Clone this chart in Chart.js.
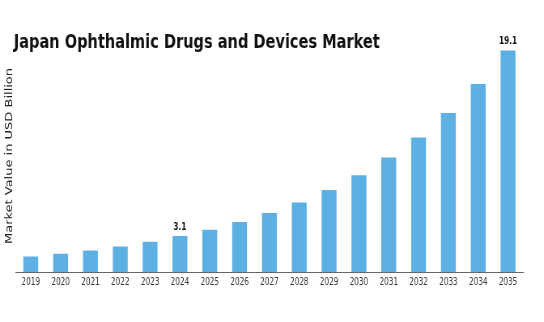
<!DOCTYPE html>
<html>
<head>
<meta charset="utf-8">
<script src="https://cdn.jsdelivr.net/npm/chart.js@4.4.1/dist/chart.umd.min.js"></script>
<style>
  html, body { margin: 0; padding: 0; background: #fff; overflow: hidden; }
  /* the original image is horizontally squeezed, so draw wider and scale down */
  #wrap { position: relative; width: 672px; height: 322px;
          transform: scaleX(0.8095); transform-origin: 0 0; }
</style>
</head>
<body>
<div id="wrap"><canvas id="market-chart"></canvas></div>
<script>
var years = ['2019', '2020', '2021', '2022', '2023', '2024', '2025', '2026', '2027',
             '2028', '2029', '2030', '2031', '2032', '2033', '2034', '2035'];
var marketValue = [1.34, 1.58, 1.86, 2.2, 2.6, 3.1, 3.64, 4.3, 5.08,
                   5.99, 7.06, 8.35, 9.86, 11.6, 13.7, 16.2, 19.1];
// only two bars carry a value label in the original
var shownLabels = [null, null, null, null, null, '3.1', null, null, null,
                   null, null, null, null, null, null, null, '19.1'];
var chartTitle = 'Japan Ophthalmic Drugs and Devices Market';
var yTitle = 'Market Value in USD Billion';

var condensed = "'DejaVu Sans Condensed', 'DejaVu Sans', sans-serif";

// title + value labels drawn on the canvas
var overlayPlugin = {
    id: 'overlay',
    afterDatasetsDraw: function (chart) {
        var ctx = chart.ctx;
        ctx.save();
        ctx.fillStyle = '#111';
        ctx.font = 'bold 10px ' + condensed;
        ctx.textAlign = 'center';
        ctx.textBaseline = 'bottom';
        chart.getDatasetMeta(0).data.forEach(function (bar, i) {
            if (shownLabels[i]) {
                ctx.fillText(shownLabels[i], bar.x, bar.y - 4);
            }
        });
        ctx.font = 'bold 20px ' + condensed;
        ctx.textAlign = 'left';
        ctx.textBaseline = 'alphabetic';
        ctx.fillText(chartTitle, 17, 48);
        ctx.restore();
    }
};

document.addEventListener('DOMContentLoaded', function () {
    var ctx = document.getElementById('market-chart').getContext('2d');
    new Chart(ctx, {
        type: 'bar',
        data: {
            labels: years,
            datasets: [{
                label: 'Market Value',
                data: marketValue,
                backgroundColor: '#5cb0e4',
                barPercentage: 0.5,
                categoryPercentage: 1.0
            }]
        },
        options: {
            responsive: true,
            maintainAspectRatio: false,
            animation: false,
            layout: { padding: { top: 40, right: 26, bottom: 30, left: 4 } },
            plugins: {
                legend: { display: false },
                tooltip: { enabled: false }
            },
            scales: {
                x: {
                    grid: { display: false, drawTicks: false },
                    border: { display: true, color: '#666', width: 1 },
                    ticks: {
                        color: '#333',
                        padding: 4,
                        font: { family: condensed, size: 10 }
                    }
                },
                y: {
                    min: 0,
                    max: 20,
                    grid: { display: false, drawTicks: false },
                    border: { display: false },
                    ticks: { display: false },
                    title: {
                        display: true,
                        text: yTitle,
                        color: '#222',
                        padding: 0,
                        font: { family: "'DejaVu Sans', sans-serif", size: 13 }
                    }
                }
            }
        },
        plugins: [overlayPlugin]
    });
});
</script>
</body>
</html>
